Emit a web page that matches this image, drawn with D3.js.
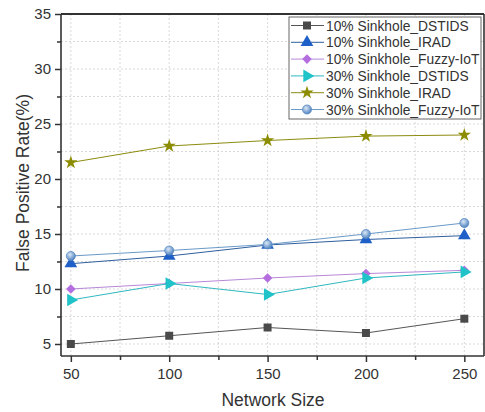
<!DOCTYPE html>
<html><head><meta charset="utf-8">
<script src="https://cdn.jsdelivr.net/npm/d3@7"></script>
<style>body{margin:0;background:#fff}svg{display:block}text{font-family:Arial,"Liberation Sans",sans-serif;fill:#333}</style>
</head><body>
<script>
const networkSizes = [50, 100, 150, 200, 250];
const seriesNames = ["10% Sinkhole_DSTIDS","10% Sinkhole_IRAD","10% Sinkhole_Fuzzy-IoT","30% Sinkhole_DSTIDS","30% Sinkhole_IRAD","30% Sinkhole_Fuzzy-IoT"];
const dstids10 = [5.0, 5.75, 6.5, 6.0, 7.3];
const irad10 = [12.3, 13.0, 14.0, 14.5, 14.85];
const fuzzy10 = [10.0, 10.5, 11.0, 11.4, 11.7];
const dstids30 = [9.0, 10.5, 9.5, 11.0, 11.55];
const irad30 = [21.5, 23.0, 23.5, 23.9, 24.0];
const fuzzy30 = [13.0, 13.5, 14.05, 15.0, 16.0];
const yTicks = [5, 10, 15, 20, 25, 30, 35];
const xTicks = [50, 100, 150, 200, 250];

const seriesValues = [dstids10, irad10, fuzzy10, dstids30, irad30, fuzzy30];
const colors = ["#4a4a4a", "#1f5fc8", "#b46ee0", "#1fc3c8", "#8c8c00", "#5b8fd0"];
const lineColors = ["#555", "#2f5f9f", "#b888d8", "#30b8c0", "#8c8c10", "#6a9ac8"];
const symbols = ["square", "triangle", "diamond", "rtri", "star", "circle"];

const W = 485, H = 412;
const L = 61, R = 484, T = 14, B = 356;
const svg = d3.select("body").append("svg").attr("width", W).attr("height", H);
const x = d3.scaleLinear().domain([45, 260]).range([L, R]);
const y = d3.scaleLinear().domain([35 - (B - T) / 11, 35]).range([B, T]);

// grid
const minorX = d3.range(50, 260, 25);
const minorY = d3.range(5, 35.1, 2.5);
svg.append("g").selectAll("line").data(minorX).join("line")
  .attr("x1", d => x(d)).attr("x2", d => x(d)).attr("y1", T).attr("y2", B)
  .attr("stroke", "#cfcfcf").attr("stroke-width", 0.8).attr("stroke-dasharray", "2,2");
svg.append("g").selectAll("line").data(minorY).join("line")
  .attr("y1", d => y(d)).attr("y2", d => y(d)).attr("x1", L).attr("x2", R)
  .attr("stroke", "#cfcfcf").attr("stroke-width", 0.8).attr("stroke-dasharray", "2,2");

// axes
const xAxis = d3.axisBottom(x).tickValues(xTicks).tickSize(6).tickPadding(6);
const xMinor = d3.axisBottom(x).tickValues(d3.range(75, 260, 50)).tickSize(4).tickFormat("");
const yAxis = d3.axisLeft(y).tickValues(yTicks).tickSize(6).tickPadding(4);
const yMinor = d3.axisLeft(y).tickValues(d3.range(7.5, 35, 5)).tickSize(4).tickFormat("");
function style(g){
  g.select(".domain").remove();
  g.selectAll("line").attr("stroke", "#333").attr("stroke-width", 1.5);
  g.selectAll("text").attr("font-size", 15).attr("fill", "#333").style("font-family", "Arial, 'Liberation Sans', sans-serif");
}
svg.append("g").attr("transform", `translate(0,${B})`).call(xAxis).call(style);
svg.append("g").attr("transform", `translate(0,${B})`).call(xMinor).call(style);
svg.append("g").attr("transform", `translate(${L},0)`).call(yAxis).call(style);
svg.append("g").attr("transform", `translate(${L},0)`).call(yMinor).call(style);

// frame
svg.append("line").attr("x1", L).attr("x2", R).attr("y1", B).attr("y2", B).attr("stroke", "#333").attr("stroke-width", 1.6);
svg.append("line").attr("x1", L).attr("x2", L).attr("y1", T).attr("y2", B).attr("stroke", "#333").attr("stroke-width", 1.6);
svg.append("line").attr("x1", L).attr("x2", R).attr("y1", T).attr("y2", T).attr("stroke", "#333").attr("stroke-width", 2.2);
svg.append("line").attr("x1", R).attr("x2", R).attr("y1", T).attr("y2", B).attr("stroke", "#333").attr("stroke-width", 1.6);

// titles
svg.append("text").attr("x", 273).attr("y", 406).attr("text-anchor", "middle").attr("font-size", 17.5).text("Network Size");
svg.append("text").attr("transform", `translate(29,183) rotate(-90)`).attr("text-anchor", "middle").attr("font-size", 17.5).text("False Positive Rate(%)");

// markers
const defs = svg.append("defs");
const grad = defs.append("radialGradient").attr("id", "cg").attr("cx", "40%").attr("cy", "35%").attr("r", "65%");
grad.append("stop").attr("offset", "0%").attr("stop-color", "#dbe8f6");
grad.append("stop").attr("offset", "100%").attr("stop-color", "#4f82c0");

function drawMarker(g, type, cx, cy, color) {
  if (type === "rtri") {
    g.append("path").attr("d", d3.symbol(d3.symbolTriangle, 70)()).attr("transform", `translate(${cx},${cy}) rotate(90)`).attr("fill", color);
  } else if (type === "diamond") {
    g.append("path").attr("d", d3.symbol(d3.symbolSquare, 46)()).attr("transform", `translate(${cx},${cy}) rotate(45)`).attr("fill", color);
  } else if (type === "circle") {
    g.append("path").attr("d", d3.symbol(d3.symbolCircle, 64)()).attr("transform", `translate(${cx},${cy})`).attr("fill", "url(#cg)").attr("stroke", "#5a8ac4").attr("stroke-width", 0.8);
  } else {
    const t = type === "square" ? d3.symbolSquare : type === "triangle" ? d3.symbolTriangle : d3.symbolStar;
    const size = type === "square" ? 64 : type === "triangle" ? 70 : 55;
    g.append("path").attr("d", d3.symbol(t, size)()).attr("transform", `translate(${cx},${cy})`).attr("fill", color);
  }
}

const line = d3.line().x((d, i) => x(networkSizes[i])).y(d => y(d));
seriesValues.forEach((vals, k) => {
  const g = svg.append("g");
  g.append("path").datum(vals).attr("d", line).attr("fill", "none").attr("stroke", lineColors[k]).attr("stroke-width", 1);
  vals.forEach((v, i) => drawMarker(g, symbols[k], x(networkSizes[i]), y(v), colors[k]));
});

// legend
const lg = svg.append("g");
lg.append("rect").attr("x", 289).attr("y", 17).attr("width", 192).attr("height", 102).attr("fill", "#fff").attr("stroke", "#666").attr("stroke-width", 1);
seriesNames.forEach((name, k) => {
  const ly = 25.5 + k * 16.8;
  lg.append("line").attr("x1", 291).attr("x2", 324).attr("y1", ly).attr("y2", ly).attr("stroke", lineColors[k]).attr("stroke-width", 1);
  drawMarker(lg, symbols[k], 307, ly, colors[k]);
  lg.append("text").attr("x", 326).attr("y", ly + 5).attr("font-size", 13.8).text(name);
});
</script>
</body></html>
